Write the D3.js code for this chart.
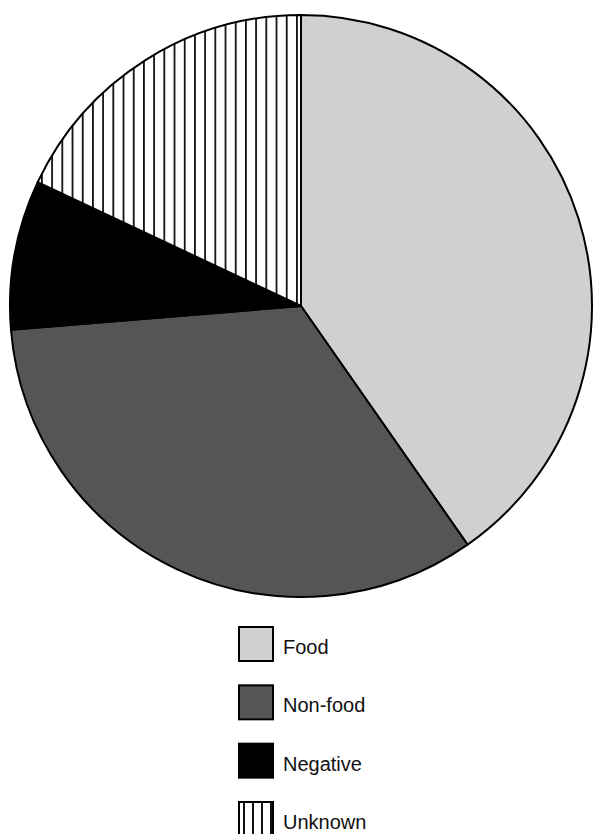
<!DOCTYPE html>
<html><head><meta charset="utf-8">
<script src="https://cdn.jsdelivr.net/npm/d3@7"></script>
<style>html,body{margin:0;padding:0;background:#fff;}svg{display:block;}</style>
</head><body>
<svg id="chart" width="593" height="834"></svg>
<script>
const categories = ["Food", "Non-food", "Negative", "Unknown"];
const values = [40.3, 33.4, 8.3, 18.0];
const fills = ["#d0d0d0", "#555555", "#000000", "url(#stripes)"];
const legendFills = ["#d0d0d0", "#555555", "#000000", "url(#stripesLegend)"];

const svg = d3.select("#chart");
const cx = 301, cy = 306, r = 291;

const defs = svg.append("defs");
const p = defs.append("pattern").attr("id", "stripes").attr("patternUnits", "userSpaceOnUse")
  .attr("width", 10.2).attr("height", 10).attr("x", cx - 10.2 * 30);
p.append("rect").attr("width", 10.2).attr("height", 10).attr("fill", "#fff");
p.append("rect").attr("x", 0).attr("width", 1.8).attr("height", 10).attr("fill", "#111");

const pl = defs.append("pattern").attr("id", "stripesLegend").attr("patternUnits", "userSpaceOnUse")
  .attr("width", 9).attr("height", 10).attr("x", 238);
pl.append("rect").attr("width", 9).attr("height", 10).attr("fill", "#fff");
pl.append("rect").attr("x", 0).attr("width", 2).attr("height", 10).attr("fill", "#111");

const pie = d3.pie().sort(null).value(d => d)(values);
const arc = d3.arc().innerRadius(0).outerRadius(r);

const g = svg.append("g").attr("transform", `translate(${cx},${cy})`);
g.selectAll("path").data(pie).join("path")
  .attr("d", arc)
  .attr("fill", (d, i) => fills[i])
  .attr("stroke", "#000")
  .attr("stroke-width", 2)
  .attr("stroke-linejoin", "round");

const y = d3.scalePoint().domain(categories).range([627, 802]);
const lg = svg.append("g");
const items = lg.selectAll("g").data(categories).join("g")
  .attr("transform", d => `translate(239,${y(d)})`);
items.append("rect")
  .attr("width", 34).attr("height", 34)
  .attr("fill", (d, i) => legendFills[i])
  .attr("stroke", "#000").attr("stroke-width", 2);
items.append("text")
  .attr("x", 44).attr("y", 27)
  .attr("font-family", "Liberation Sans, Arial, Helvetica, sans-serif")
  .attr("font-size", 20)
  .attr("fill", "#111")
  .text(d => d);
</script>
</body></html>
